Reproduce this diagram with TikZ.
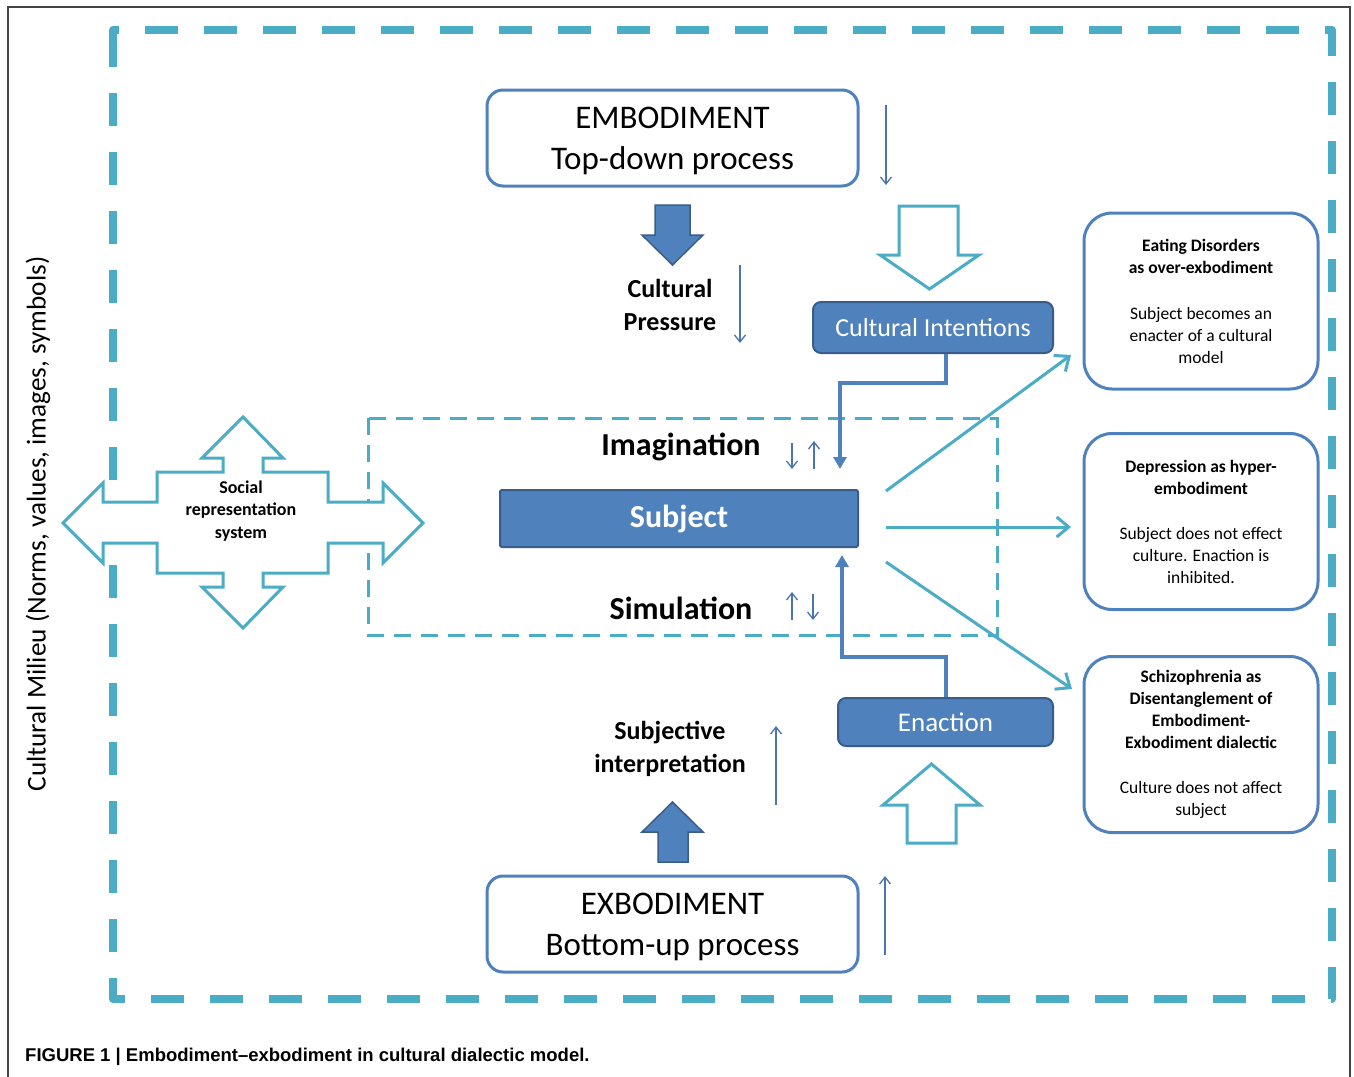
\documentclass[tikz,border=0pt]{standalone}
\usepackage{fontspec}
\setmainfont{Carlito}
\newfontfamily\capfont{Liberation Sans}
\usetikzlibrary{arrows.meta}
\definecolor{tealc}{HTML}{4BACC6}
\definecolor{bluec}{HTML}{4F81BD}
\definecolor{bluedk}{HTML}{385D8A}
\definecolor{thinbl}{HTML}{4A76B0}
\definecolor{framec}{HTML}{444444}
\newcommand{\twolines}[2]{\raisebox{-3pt}[\height][\depth]{\begin{tabular}{@{}c@{}}#1\\#2\end{tabular}}}
\begin{document}
\begin{tikzpicture}[x=1pt,y=-1pt,
  wbox/.style={draw=bluec, line width=3pt, fill=white, rounded corners=16pt, inner sep=0pt, align=center},
  rbox/.style={draw=bluec, line width=3pt, fill=white, rounded corners=28pt, inner sep=0pt, align=center,
     minimum width=234pt, minimum height=176pt, font=\fontsize{17.5}{22}\selectfont},
  fbox/.style={draw=bluedk, line width=2pt, fill=bluec, text=white, inner sep=0pt, align=center},
  lbl/.style={align=center, inner sep=0pt, font=\bfseries\fontsize{26}{33}\selectfont},
  biglbl/.style={inner sep=0pt, font=\bfseries\fontsize{32}{38}\selectfont},
  thinarr/.style={draw=thinbl, line width=1.3pt, -{Straight Barb[length=7pt,width=11pt]}},
  tealarr/.style={draw=tealc, line width=3pt, -{Straight Barb[length=12pt,width=20pt]}},
  elbow/.style={draw=bluec, line width=4pt, -{Triangle[length=12pt,width=13pt]}},
  hollow/.style={draw=tealc, line width=3pt, fill=white, line join=miter},
  solidarr/.style={draw=bluedk, line width=1.5pt, fill=bluec, line join=miter}
]
\useasboundingbox (0,0) rectangle (1354,1076);
\fill[white] (0,0) rectangle (1354,1076);

% outer page frame
\draw[framec, line width=1.5pt] (8,1080) -- (8,7) -- (1350,7) -- (1350,1080);

% outer dashed milieu frame
\draw[tealc, line width=8pt, dash pattern=on 33pt off 26pt, line join=round]
  (113,57) -- (113,30) -- (1332,30) -- (1332,999) -- (113,999) -- cycle;

% inner dashed region
\draw[tealc, line width=3pt, dash pattern=on 17pt off 10pt]
  (368,418) rectangle (997,635);

% social representation four-way arrow
\draw[tealc, line width=3pt, fill=white, line join=miter]
  (63,523) -- (103,483) -- (103,502) -- (157,502) -- (157,472) -- (223,472) -- (223,458) -- (202,458)
  -- (243,417) -- (283,458) -- (263,458) -- (263,472) -- (328,472) -- (328,502) -- (383,502)
  -- (383,483) -- (423,523) -- (383,563) -- (383,543) -- (328,543) -- (328,573) -- (263,573)
  -- (263,587) -- (283,587) -- (243,628) -- (202,587) -- (223,587) -- (223,573) -- (157,573)
  -- (157,543) -- (103,543) -- (103,563) -- cycle;
\node[align=center, inner sep=0pt, font=\bfseries\fontsize{18}{22.5}\selectfont] (srs) at (241,511)
  {Social\\representation\\system};

% left vertical label
\node[rotate=90, inner sep=0pt, font=\fontsize{27.2}{30}\selectfont] (milieu) at (38,524)
  {Cultural Milieu (Norms, values, images, symbols)};

% main boxes
\node[wbox, minimum width=371pt, minimum height=96pt, font=\fontsize{33}{41}\selectfont] (emb) at (672.5,138)
  {\twolines{EMBODIMENT}{Top-down process}};
\node[wbox, minimum width=371pt, minimum height=96pt, font=\fontsize{33}{41}\selectfont] (exb) at (672.5,924)
  {\twolines{EXBODIMENT}{Bottom-up process}};

\node[fbox, rounded corners=8pt, minimum width=240pt, minimum height=51pt, font=\fontsize{26}{30}\selectfont] (ci) at (933,327.5)
  {Cultural Intentions};
\node[fbox, rounded corners=2pt, minimum width=358pt, minimum height=57pt, font=\bfseries\fontsize{32}{36}\selectfont] (subj) at (679,518.5)
  {Subject};
\node[fbox, rounded corners=8pt, minimum width=215pt, minimum height=48pt, font=\fontsize{27}{30}\selectfont] (ena) at (945.5,722)
  {Enaction};

% right boxes
\node[rbox] (ed) at (1201,301)
  {\textbf{Eating Disorders}\\\textbf{as over-exbodiment}\\[24pt]Subject becomes an\\enacter of a cultural\\model};
\node[rbox] (dep) at (1201,521.5)
  {\textbf{Depression as hyper-}\\\textbf{embodiment}\\[23pt]Subject does not effect\\culture. Enaction is\\inhibited.};
\node[rbox] (sch) at (1201,744.5)
  {\textbf{Schizophrenia as}\\\textbf{Disentanglement of}\\\textbf{Embodiment-}\\\textbf{Exbodiment dialectic}\\[23pt]Culture does not affect\\subject};

% labels
\node[lbl] (cp) at (670,305) {Cultural\\Pressure};
\node[lbl] (si) at (670,749) {Subjective\\interpretation};
\node[biglbl] (imag) at (681,447) {Imagination};
\node[biglbl] (simu) at (681,608) {Simulation};

% solid block arrows
\draw[solidarr] (655,205) -- (690,205) -- (690,235) -- (703,235) -- (672.5,265) -- (642,235) -- (655,235) -- cycle;
\draw[solidarr] (658,862) -- (688,862) -- (688,832) -- (703,832) -- (672.5,802) -- (642,832) -- (658,832) -- cycle;

% hollow block arrows
\draw[hollow] (899,206) -- (958,206) -- (958,255) -- (979,255) -- (929.5,289) -- (880,255) -- (899,255) -- cycle;
\draw[hollow] (907,843) -- (956,843) -- (956,805) -- (980,805) -- (931.5,764) -- (883,805) -- (907,805) -- cycle;

% thin arrows
\coordinate (t1a) at (886,105); \coordinate (t1b) at (886,185);
\draw[thinarr] (t1a) -- (t1b);
\coordinate (t2a) at (740,265); \coordinate (t2b) at (740,343);
\draw[thinarr] (t2a) -- (t2b);
\coordinate (t3a) at (792,443); \coordinate (t3b) at (792,469);
\draw[thinarr] (t3a) -- (t3b);
\coordinate (t4a) at (814,469); \coordinate (t4b) at (814,441);
\draw[thinarr] (t4a) -- (t4b);
\coordinate (t5a) at (792,620); \coordinate (t5b) at (792,592);
\draw[thinarr] (t5a) -- (t5b);
\coordinate (t6a) at (813,594); \coordinate (t6b) at (813,620);
\draw[thinarr] (t6a) -- (t6b);
\coordinate (t7a) at (776,805); \coordinate (t7b) at (776,726);
\draw[thinarr] (t7a) -- (t7b);
\coordinate (t8a) at (885,955); \coordinate (t8b) at (885,876);
\draw[thinarr] (t8a) -- (t8b);

% elbow connectors
\coordinate (cid) at (946,383);
\coordinate (ciend) at (840,469);
\draw[elbow] ([xshift=13pt]ci.south) -- (cid) -- (cid -| ciend) -- (ciend);
\coordinate (enu) at (946,657);
\coordinate (enend) at (842,555);
\draw[elbow] ([xshift=0.5pt]ena.north) -- (enu) -- (enu -| enend) -- (enend);

% teal arrows from subject to outcome boxes
\coordinate (s1) at (886,491); \coordinate (e1) at (1071,355);
\coordinate (s2) at (886,527); \coordinate (e2) at (1071,527);
\coordinate (s3) at (886,562); \coordinate (e3) at (1072,689);
\draw[tealarr] (s1) -- (e1);
\draw[tealarr] (s2) -- (e2);
\draw[tealarr] (s3) -- (e3);

% caption
\node[anchor=base west, inner sep=0pt, font=\capfont\bfseries\fontsize{18.5}{22}\selectfont] (cap) at (25,1061)
  {FIGURE 1 | Embodiment–exbodiment in cultural dialectic model.};
\end{tikzpicture}
\end{document}
